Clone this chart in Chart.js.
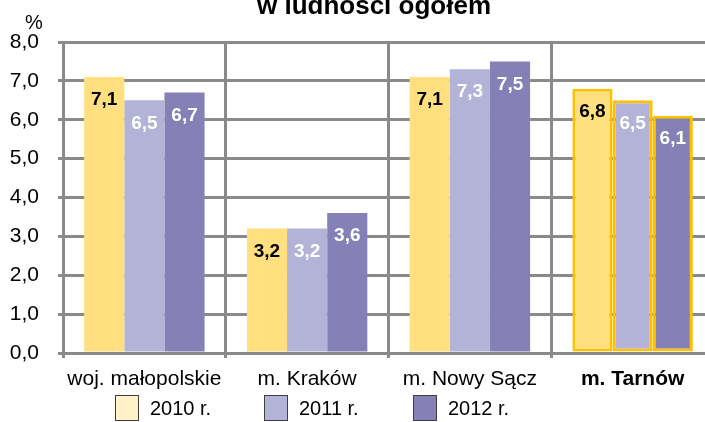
<!DOCTYPE html>
<html>
<head>
<meta charset="utf-8">
<title>Udział w ludności ogółem</title>
<script src="https://cdn.jsdelivr.net/npm/chart.js@4.4.0/dist/chart.umd.min.js"></script>
<style>
  html, body { margin: 0; padding: 0; background: #fff; overflow: hidden; }
  body { font-family: "Liberation Sans", Arial, sans-serif; color: #000; }
  #wrap { position: relative; width: 705px; height: 422px; overflow: hidden; }
  #chart { position: absolute; left: 0; top: 0; }
  #title { position: absolute; left: 0; top: -10px; width: 748px; text-align: center;
           font-weight: bold; font-size: 26px; line-height: 30px; white-space: nowrap; }
  #unit { position: absolute; left: 25px; top: 10px; font-size: 20px; line-height: 24px; }
  #legend { position: absolute; left: 115px; top: 395px; display: flex; }
  .legend-item { display: flex; align-items: center; width: 149px; font-size: 20px; line-height: 26px; }
  .legend-box { width: 22px; height: 24px; border: 1.5px solid #404040; margin-right: 11px; }
</style>
</head>
<body>
<div id="wrap">
  <canvas id="chart" width="720" height="422"></canvas>
  <div id="title">w ludności ogółem</div>
  <div id="unit">%</div>
  <div id="legend"></div>
</div>
<script>
const categories = ['woj. małopolskie', 'm. Kraków', 'm. Nowy Sącz', 'm. Tarnów'];
const seriesLabels = ['2010 r.', '2011 r.', '2012 r.'];
const values2010 = [7.1, 3.2, 7.1, 6.8];
const values2011 = [6.5, 3.2, 7.3, 6.5];
const values2012 = [6.7, 3.6, 7.5, 6.1];
const yTicks = [0, 1, 2, 3, 4, 5, 6, 7, 8];

const barColors = ['#FFDF80', '#B3B3D7', '#8581B7'];
const legendColors = ['#FFF2C8', '#B3B3D7', '#8581B7'];
const labelColors = ['#000000', '#FFFFFF', '#FFFFFF'];
const gridColor = '#8A8A8A';
const highlightBorder = '#FFC000';
const highlightIndex = 3; // m. Tarnów

const fmt = v => v.toFixed(1).replace('.', ',');

// etykiety wartości wewnątrz słupków
const barLabels = {
  id: 'barLabels',
  afterDatasetsDraw(chart) {
    const ctx = chart.ctx;
    ctx.save();
    ctx.font = 'bold 19px "Liberation Sans", Arial, sans-serif';
    ctx.textAlign = 'center';
    ctx.textBaseline = 'middle';
    chart.data.datasets.forEach((ds, i) => {
      const meta = chart.getDatasetMeta(i);
      meta.data.forEach((bar, j) => {
        ctx.fillStyle = labelColors[i];
        ctx.fillText(fmt(ds.data[j]), bar.x, bar.y + 23);
      });
    });
    ctx.restore();
  }
};

const seriesValues = [values2010, values2011, values2012];

const datasets = seriesLabels.map((label, i) => ({
  label,
  data: seriesValues[i],
  backgroundColor: barColors[i],
  borderColor: highlightBorder,
  borderWidth: categories.map((_, j) => j === highlightIndex ? 3 : 0),
  borderSkipped: false,
  categoryPercentage: 0.74,
  barPercentage: 1.0
}));

const chart = new Chart(document.getElementById('chart'), {
  type: 'bar',
  data: { labels: categories, datasets },
  options: {
    responsive: false,
    animation: false,
    layout: { autoPadding: false, padding: { left: 9, right: 6, top: 42, bottom: 32 } },
    plugins: {
      legend: { display: false },
      title: { display: false },
      tooltip: { enabled: false }
    },
    scales: {
      x: {
        afterFit: scale => { scale.height = 37; },
        grid: { offset: true, color: gridColor, lineWidth: 3, tickLength: 5 },
        border: { color: gridColor, width: 3 },
        ticks: {
          padding: 9,
          color: '#000',
          autoSkip: false,
          maxRotation: 0,
          minRotation: 0,
          font: ctx => ({
            family: '"Liberation Sans", Arial, sans-serif',
            size: 21,
            weight: ctx.index === highlightIndex ? 'bold' : 'normal'
          })
        }
      },
      y: {
        min: yTicks[0],
        max: yTicks[yTicks.length - 1],
        afterFit: scale => { scale.width = 54; },
        afterBuildTicks: axis => { axis.ticks = yTicks.map(v => ({ value: v })); },
        grid: { color: gridColor, lineWidth: 3, tickLength: 5 },
        border: { color: gridColor, width: 3 },
        ticks: {
          padding: 19,
          color: '#000',
          font: { family: '"Liberation Sans", Arial, sans-serif', size: 21 },
          callback: v => fmt(v)
        }
      }
    }
  },
  plugins: [barLabels]
});

// legenda w HTML
const legend = document.getElementById('legend');
seriesLabels.forEach((label, i) => {
  const item = document.createElement('div');
  item.className = 'legend-item';
  const box = document.createElement('span');
  box.className = 'legend-box';
  box.style.background = legendColors[i];
  const text = document.createElement('span');
  text.textContent = label;
  item.appendChild(box);
  item.appendChild(text);
  legend.appendChild(item);
});
</script>
</body>
</html>
